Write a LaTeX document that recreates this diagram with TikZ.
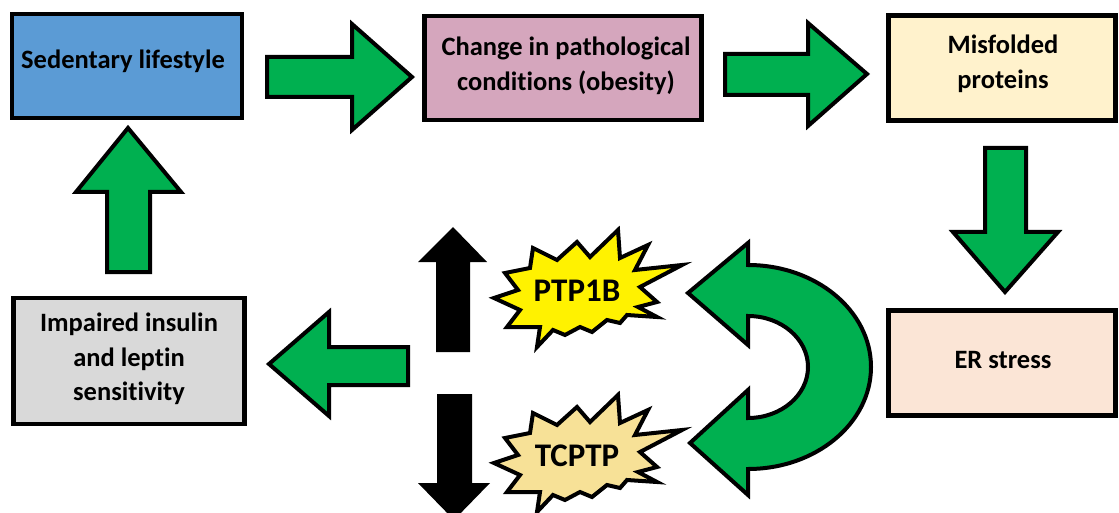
\documentclass[tikz,border=0pt]{standalone}
\usepackage{fontspec}
\setmainfont{Carlito}[Ligatures=NoCommon]
\definecolor{bluebox}{HTML}{5B9BD5}
\definecolor{pinkbox}{HTML}{D5A6BD}
\definecolor{creambox}{HTML}{FFF2CC}
\definecolor{peachbox}{HTML}{FBE5D6}
\definecolor{greybox}{HTML}{D9D9D9}
\definecolor{arrowgreen}{HTML}{00B050}
\definecolor{tanstar}{HTML}{F7E197}
\tikzset{
  box/.style={draw=black, line width=4.5, align=center, inner sep=0pt,
    font=\fontsize{26.5}{34.5}\selectfont\bfseries},
  garrow/.style={draw=black, fill=arrowgreen, line width=4, line join=miter},
  barrow/.style={fill=black},
  burststyle/.style={draw=black, line width=4, line join=miter},
  bursttext/.style={font=\fontsize{33}{36}\selectfont\bfseries, inner sep=0pt},
  pics/burst/.style={code={
    \draw[burststyle, fill=#1] (-83,8) -- (-59,0) -- (-72,-17) -- (-47,-22) -- (-44,-42)
      -- (-20,-30) -- (0,-48) -- (13,-33) -- (41,-60) -- (43,-32) -- (71,-45)
      -- (58,-20) -- (105,-25) -- (63,-3) -- (80,12) -- (61,17) -- (80,27)
      -- (50,25) -- (43,33) -- (30,30) -- (15,42) -- (3,37) -- (-12,45)
      -- (-24,40) -- (-40,57) -- (-37,37) -- (-70,37) -- (-57,20) -- cycle;
  }}
}
\begin{document}
\begin{tikzpicture}[x=1pt,y=-1pt]
\useasboundingbox (0,0) rectangle (1119,513);
\clip (0,0) rectangle (1119,513);
% boxes
\node[box, fill=bluebox, minimum width=230, minimum height=104] (sed) at (127,66) {};
\node[box, fill=pinkbox, minimum width=277, minimum height=104] (chg) at (563,68) {};
\node[box, fill=creambox, minimum width=227, minimum height=105] (mis) at (1002,68) {};
\node[box, fill=peachbox, minimum width=227, minimum height=105] (er) at (1002,363) {};
\node[box, fill=greybox, minimum width=231, minimum height=126] (imp) at (129,361) {};
\node[box, draw=none, anchor=center] (sedt) at (123,61) {Sedentary lifestyle};
\node[box, draw=none] (chgt) at (566,66) {Change in pathological\\conditions (obesity)};
\node[box, draw=none] (mist) at (1003,64) {Misfolded\\proteins};
\node[box, draw=none] (ert) at (1003,360) {ER stress};
\node[box, draw=none] (impt) at (129,359) {Impaired insulin\\and leptin\\sensitivity};
% green arrows
\draw[garrow] (267,57) -- (352,57) -- (352,24) -- (412,77) -- (352,130) -- (352,97) -- (267,97) -- cycle;
\draw[garrow] (725,54) -- (808,54) -- (808,23) -- (867,74) -- (808,126) -- (808,95) -- (725,95) -- cycle;
\draw[garrow] (985,148) -- (1026,148) -- (1026,232) -- (1058,232) -- (1005,292) -- (953,232) -- (985,232) -- cycle;
\draw[garrow] (107,272) -- (107,192) -- (76,192) -- (128,128) -- (181,192) -- (150,192) -- (150,272) -- cycle;
\draw[garrow] (408,347) -- (329,347) -- (329,312) -- (269,364) -- (329,416) -- (329,385) -- (408,385) -- cycle;
% curved double arrow
\draw[garrow] (688,293) -- (748,243) -- (748,265)
  arc[start angle=90, end angle=-90, x radius=123pt, y radius=102pt]
  -- (748,495) -- (690,443) -- (748,390) -- (748,418)
  arc[start angle=-90, end angle=90, x radius=60pt, y radius=51pt]
  -- (748,345) -- cycle;
% black arrows
\fill[barrow] (436,352) -- (436,262) -- (418,262) -- (453,227) -- (487,262) -- (470,262) -- (470,352) -- cycle;
\fill[barrow] (437,394) -- (472,394) -- (472,483) -- (490,483) -- (454,520) -- (418,483) -- (437,483) -- cycle;
% bursts
\pic at (577,290) {burst=yellow};
\pic at (577,455) {burst=tanstar};
\node[bursttext] (ptp) at (577,291) {PTP1B};
\node[bursttext] (tcp) at (577,456) {TCPTP};
\end{tikzpicture}
\end{document}
